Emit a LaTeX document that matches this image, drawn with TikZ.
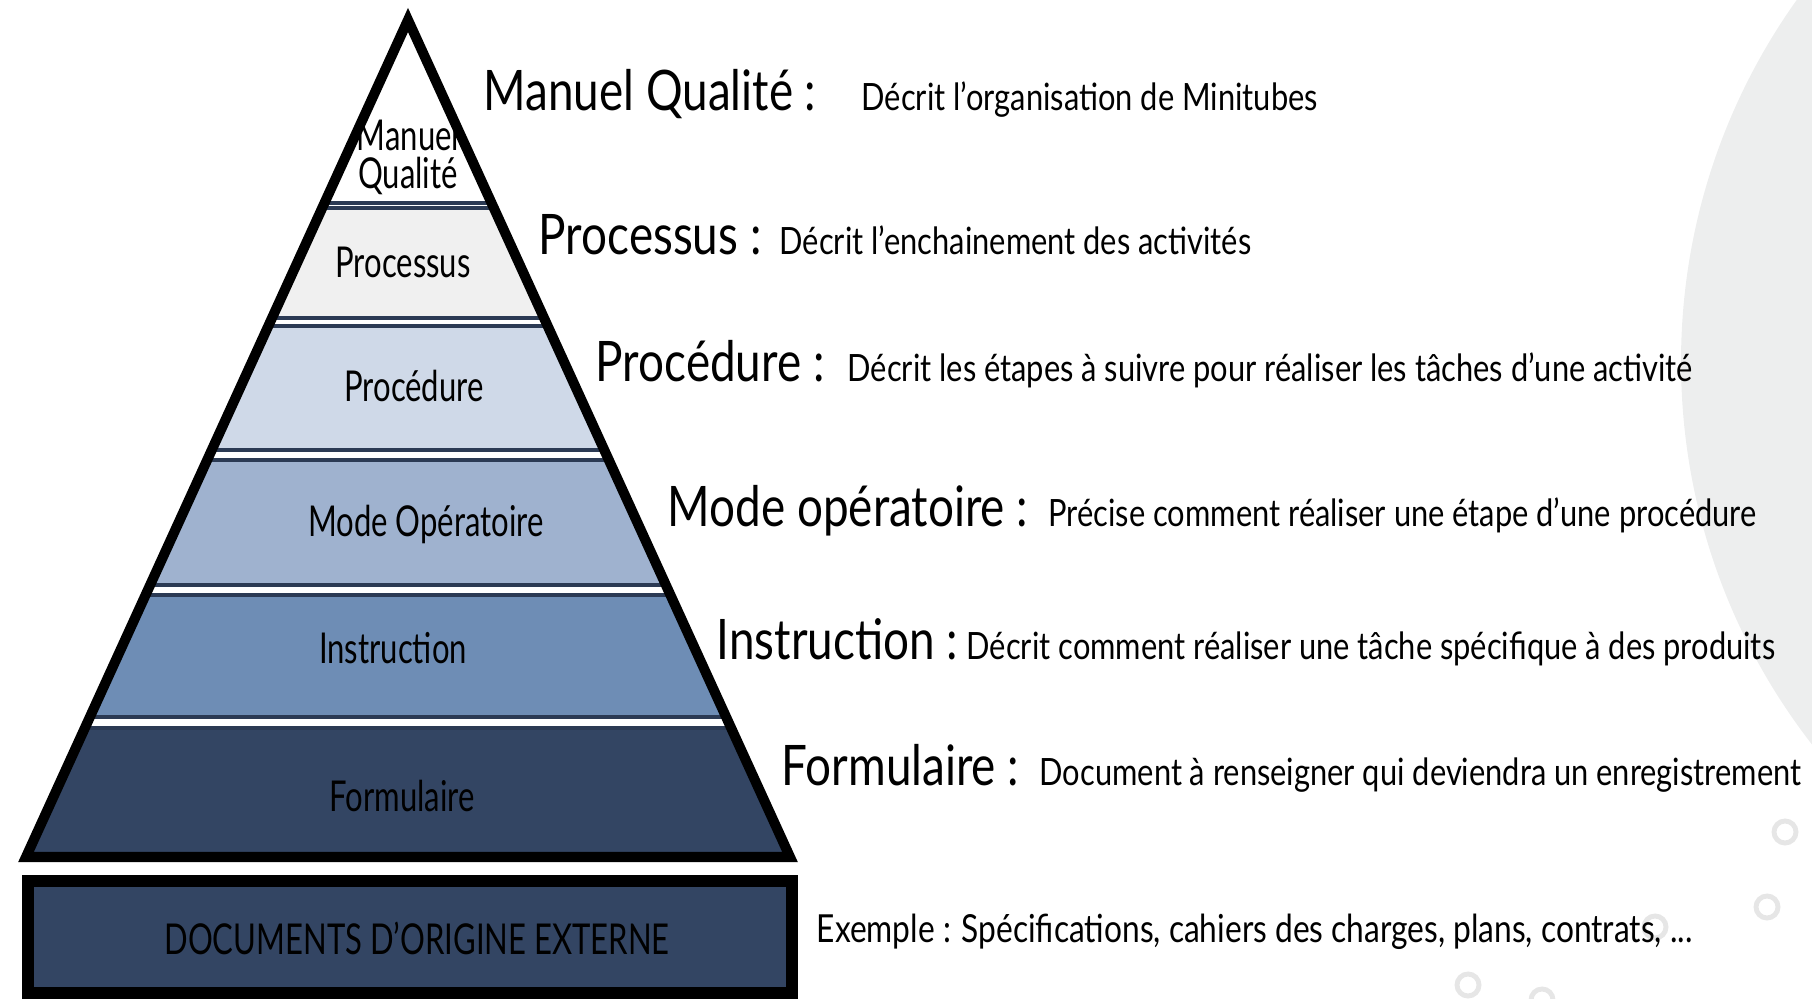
\documentclass[tikz,border=0pt]{standalone}
\usepackage{fontspec}
\setmainfont{Lato}[FakeStretch=0.82]
\newfontfamily\condfont{Lato}[FakeStretch=0.73]
\usetikzlibrary{positioning}

\definecolor{navy}{HTML}{334563}
\definecolor{edgenavy}{HTML}{2B3A54}
\definecolor{procgray}{HTML}{F0F0F0}
\definecolor{blueA}{HTML}{CFD9E8}
\definecolor{blueB}{HTML}{9FB2CF}
\definecolor{blueC}{HTML}{6E8DB5}
\definecolor{bggray}{HTML}{EDEEEE}
\definecolor{ringgray}{HTML}{E6E6E6}

\tikzset{
  level/.style={font=\condfont\fontsize{12.1}{10.9}\selectfont, align=center, inner sep=0pt},
  title/.style={font=\fontsize{15.9}{18}\selectfont, anchor=base west, inner sep=0pt},
  descr/.style={font=\fontsize{10.7}{12}\selectfont, anchor=base west, inner sep=0pt},
  band/.style={draw=edgenavy, line width=1pt},
  ring/.style={draw=ringgray, line width=1.4pt},
}

\begin{document}
\begin{tikzpicture}[x=0.1mm, y=-0.1mm]
    \useasboundingbox (0,0) rectangle (1812,999);
    \clip (0,0) rectangle (1812,999);

    % background decoration
    \fill[bggray] (2305,362) circle [radius=624];
    \foreach \cx/\cy in {1785/832, 1767/907, 1655/927, 1468/985, 1542/1000}
        \draw[ring] (\cx,\cy) circle [radius=11];

    % pyramid levels
    \begin{scope}
        \clip (408,20) -- (26,857) -- (790,857) -- cycle;
        \foreach \yt/\yb/\col in {-20/203/white, 208/318/procgray, 326/450/blueA,
                                  460/585/blueB, 595/717/blueC, 728/857/navy}
            \draw[band, fill=\col] (0,\yt) rectangle (820,\yb);
    \end{scope}
    \draw[line width=2.85pt, line join=miter] (408,20) -- (26,857) -- (790,857) -- cycle;

    % external documents
    \draw[line width=3.4pt, fill=navy] (28,881) rectangle (792,993);

    \node[level] (lvManuel) at (408,157) {Manuel\\Qualité};
    \node[level] (lvProc) at (403,262) {Processus};
    \node[level] (lvProced) at (414,386) {Procédure};
    \node[level] (lvMode) at (426,524) {Mode Opératoire};
    \node[level] (lvInstr) at (393,648) {Instruction};
    \node[level] (lvForm) at (402,796) {Formulaire};
    \node[level] (lvExt) at (417,938) {DOCUMENTS D’ORIGINE EXTERNE};

    % descriptions
    \node[title] (tManuel) at (483,111) {Manuel Qualité :};
    \node[descr] (dManuel) at (861,111) {Décrit l’organisation de Minitubes};
    \node[title] (tProc) at (538,255) {Processus :};
    \node[descr] (dProc) at (779,255) {Décrit l’enchainement des activités};
    \node[title] (tProced) at (595,382) {Procédure :};
    \node[descr] (dProced) at (847,382) {Décrit les étapes à suivre pour réaliser les tâches d’une activité};
    \node[title] (tMode) at (667,527) {Mode opératoire :};
    \node[descr] (dMode) at (1048,527) {Précise comment réaliser une étape d’une procédure};
    \node[title] (tInstr) at (716,660) {Instruction :};
    \node[descr] (dInstr) at (966,660) {Décrit comment réaliser une tâche spécifique à des produits};
    \node[title] (tForm) at (781,786) {Formulaire :};
    \node[descr] (dForm) at (1039,786) {Document à renseigner qui deviendra un enregistrement};
    \node[descr, font=\fontsize{11}{12}\selectfont] (ex) at (816,942) {Exemple : Spécifications, cahiers des charges, plans, contrats, ...};
\end{tikzpicture}
\end{document}
